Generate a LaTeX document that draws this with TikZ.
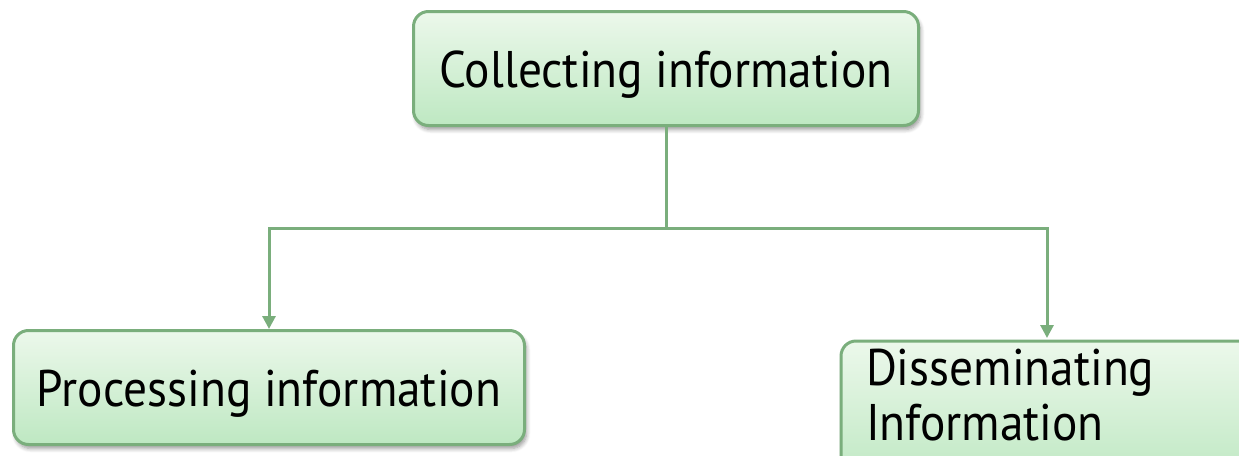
\documentclass[tikz,border=0pt]{standalone}
\usepackage{fontspec}
\setmainfont{PT Sans}[FakeStretch=0.92]
\usetikzlibrary{shadows.blur,arrows.meta}
\definecolor{boxline}{RGB}{122,174,124}
\definecolor{boxtop}{RGB}{236,248,235}
\definecolor{boxbottom}{RGB}{190,232,194}
\tikzset{
  infobox/.style={draw=boxline, line width=3pt, rounded corners=15pt,
    top color=boxtop, bottom color=boxbottom,
    blur shadow={shadow xshift=2pt, shadow yshift=-4pt, shadow blur steps=6,
      shadow blur radius=4pt, shadow opacity=40},
    font=\fontsize{51.5pt}{55pt}\selectfont, inner sep=0pt},
  link/.style={draw=boxline, line width=3pt},
  tip/.style={-{Triangle[length=13pt,width=13pt]}}
}
\begin{document}
\begin{tikzpicture}[x=1pt,y=-1pt]
\useasboundingbox (0,0) rectangle (1239,455);
\clip (0,0) rectangle (1239,455);
\node[infobox, minimum width=505pt, minimum height=114pt,
  text height=38pt, text depth=0pt] (collect) at (666,68.5) {Collecting information};
\node[infobox, minimum width=511pt, minimum height=114pt,
  text height=38pt, text depth=0pt] (process) at (269,387.5) {Processing information};
% the last box runs past the lower and right edges of the page
\node[infobox, anchor=north west, inner xsep=25pt, inner ysep=8pt] (dissem) at (839.5,339.5)
  {\parbox[t][125pt][t]{380pt}{\raggedright Disseminating\\Information}};
\coordinate (split) at (666,228);
\coordinate (dissemtop) at (1047,338);
\draw[link] (collect.south) -- (split);
\draw[link,tip] (split) -| (process.north);
\draw[link,tip] (split) -| (dissemtop);
\end{tikzpicture}
\end{document}
